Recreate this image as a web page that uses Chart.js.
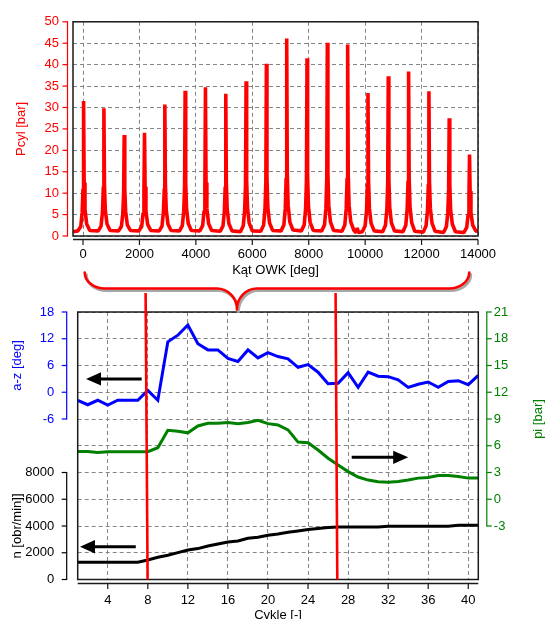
<!DOCTYPE html>
<html><head><meta charset="utf-8">
<script src="https://cdn.jsdelivr.net/npm/chart.js@4.4.0/dist/chart.umd.min.js"></script>
<style>
html,body{margin:0;padding:0;background:#fff;overflow:hidden}
#wrap{position:relative;width:546px;height:619px;overflow:hidden;background:#fff}
canvas{position:absolute;left:0}
</style></head><body>
<div id="wrap">
<canvas id="cTop" width="546" height="280" style="top:0;width:546px;height:280px"></canvas>
<canvas id="cBot" width="546" height="360" style="top:270px;width:546px;height:360px"></canvas>
</div>
<script>
// ---------- top panel: cylinder pressure vs crank angle ----------
const angleTicks = [0, 2000, 4000, 6000, 8000, 10000, 12000, 14000];
const pcylTicks = [0, 5, 10, 15, 20, 25, 30, 35, 40, 45, 50];
const pcylAngle = [-355,
  -180,-80,-30,0,20,40,70,130,240,
  540,640,690,720,740,760,790,850,960,
  1260,1360,1410,1440,1460,1480,1510,1570,1680,
  1980,2080,2130,2160,2180,2200,2230,2290,2400,
  2700,2800,2850,2880,2900,2920,2950,3010,3120,
  3420,3520,3570,3600,3620,3640,3670,3730,3840,
  4140,4240,4290,4320,4340,4360,4390,4450,4560,
  4860,4960,5010,5040,5060,5080,5110,5170,5280,
  5580,5680,5730,5760,5780,5800,5830,5890,6000,
  6300,6400,6450,6480,6500,6520,6550,6610,6720,
  7020,7120,7170,7200,7220,7240,7270,7330,7440,
  7740,7840,7890,7920,7940,7960,7990,8050,8160,
  8460,8560,8610,8640,8660,8680,8710,8770,8880,
  9180,9280,9330,9360,9380,9400,9430,9490,9600,
  9680,9720,9760,
  9900,10000,10050,10080,10100,10120,10150,10210,10320,
  10620,10720,10770,10800,10820,10840,10870,10930,11040,
  11340,11440,11490,11520,11540,11560,11590,11650,11760,
  12060,12160,12210,12240,12260,12280,12310,12370,12480,
  12780,12880,12930,12960,12980,13000,13030,13090,13200,
  13500,13600,13650,13680,13700,13720,13750,13810,13920,
  14000];
const pcylBar = [1.0,
  1.2,2.2,5.5,11.0,31.5,12.5,6.2,2.8,1.3,
  1.2,2.3,5.6,11.5,29.8,12.0,6.0,2.8,1.3,
  1.2,2.2,5.2,10.0,23.6,11.0,5.8,2.6,1.3,
  1.2,2.2,5.3,10.2,24.1,11.5,5.9,2.7,1.3,
  1.2,2.3,5.6,11.0,30.7,12.0,6.1,2.8,1.3,
  1.2,2.4,5.8,11.5,33.9,12.5,6.3,2.9,1.3,
  1.2,2.4,5.8,11.8,34.7,12.5,6.4,2.9,1.3,
  1.1,2.3,5.7,11.5,33.2,12.5,6.3,2.9,1.2,
  1.0,2.4,6.0,12.0,36.1,13.0,6.6,3.0,1.2,
  1.1,2.5,6.2,12.5,40.2,13.5,6.8,3.1,1.3,
  1.2,2.6,6.5,13.5,46.1,14.5,7.2,3.3,1.4,
  1.2,2.6,6.4,13.0,41.5,14.0,7.0,3.2,1.3,
  1.2,2.6,6.5,13.5,45.1,14.5,7.2,3.3,1.3,
  1.1,2.6,6.5,13.5,44.7,14.5,7.2,3.3,1.3,
  0.8,1.9,0.8,
  1.0,2.4,6.0,12.0,33.4,13.0,6.5,3.0,1.2,
  1.0,2.5,6.2,12.5,37.3,13.5,6.8,3.1,1.2,
  1.0,2.5,6.3,12.8,38.4,13.5,6.8,3.1,1.1,
  0.9,2.4,6.0,12.0,33.8,13.0,6.5,3.0,1.1,
  0.8,2.2,5.5,11.0,27.5,12.0,6.0,2.8,1.0,
  0.8,2.0,5.0,9.5,19.0,10.5,5.5,2.6,1.2,
  1.1];

// ---------- bottom panel: per-cycle values ----------
const cycles = [1,2,3,4,5,6,7,8,9,10,11,12,13,14,15,16,17,18,19,20,21,22,23,24,25,26,27,28,29,30,31,32,33,34,35,36,37,38,39,40,41];
const cycleTicks = [4, 8, 12, 16, 20, 24, 28, 32, 36, 40];
const azDeg = [-1.8,-2.8,-1.8,-2.9,-1.8,-1.8,-1.8,0.4,-1.8,11.3,12.8,15.1,10.9,9.5,9.5,7.6,6.9,9.5,7.7,8.9,8.0,7.5,5.6,6.2,4.5,1.9,2.0,4.4,1.1,4.5,3.6,3.5,2.8,1.1,1.8,2.3,1.1,2.4,2.6,1.7,3.8];
const piBar = [5.35,5.35,5.25,5.33,5.33,5.33,5.33,5.33,5.78,7.74,7.63,7.45,8.22,8.52,8.52,8.6,8.48,8.6,8.85,8.48,8.33,7.78,6.41,6.33,5.52,4.6,3.85,3.1,2.49,2.15,1.97,1.9,2.0,2.15,2.37,2.45,2.67,2.67,2.56,2.37,2.37];
const nRpm = [1290,1290,1290,1290,1290,1290,1290,1460,1660,1810,2010,2210,2310,2510,2660,2810,2880,3080,3160,3310,3410,3530,3630,3730,3810,3880,3930,3930,3930,3930,3930,3980,3980,3980,3980,3980,3980,3980,4060,4060,4060];
const azTicks = [-6, 0, 6, 12, 18];
const nTicks = [0, 2000, 4000, 6000, 8000];
const piTicks = [-3, 0, 3, 6, 9, 12, 15, 18, 21];
const piGridTicks = [-9, -6, -3, 0, 3, 6, 9, 12, 15, 18, 21];
const AZ_MIN = -42, AZ_MAX = 18, N_MIN = 0, N_MAX = 20000;

// annotations (data coordinates)
const markerTop = [7.78, 26.75];
const markerBottom = [7.98, 26.92];
const braceAngleFrom = 60, braceAngleTo = 13690, braceTipCycle = 16.9;
const arrows = [
  {axis: 'yAz', from: 7.39, to: 1.83, at: 3.0},
  {axis: 'yN', from: 6.8, to: 1.23, at: 2450},
  {axis: 'yPi', from: 28.36, to: 34.0, at: 4.7}
];

const FONT = "'Liberation Sans', Arial, Helvetica, sans-serif";
Chart.defaults.font.family = FONT;
Chart.defaults.font.size = 13;
Chart.defaults.color = '#000';
const RED = '#ff0000', BLUE = '#0000ff', GREEN = '#008000', GRID = '#858585', FRAME = '#1a1a1a';

function seg(ctx, x1, y1, x2, y2, color, w) {
  ctx.beginPath(); ctx.moveTo(x1, y1); ctx.lineTo(x2, y2);
  ctx.strokeStyle = color; ctx.lineWidth = w; ctx.setLineDash([]); ctx.stroke();
}
function vText(ctx, text, x, y, color) {
  ctx.save(); ctx.translate(x, y); ctx.rotate(-Math.PI / 2);
  ctx.fillStyle = color; ctx.font = '13px ' + FONT; ctx.textAlign = 'center'; ctx.textBaseline = 'middle';
  ctx.fillText(text, 0, 0); ctx.restore();
}
function hText(ctx, text, x, y, color) {
  ctx.save(); ctx.fillStyle = color; ctx.font = '13px ' + FONT; ctx.textAlign = 'center'; ctx.textBaseline = 'middle';
  ctx.fillText(text, x, y); ctx.restore();
}
function vAxis(ctx, scale, values, x, dir, color) {
  const y1 = scale.getPixelForValue(Math.min(...values));
  const y2 = scale.getPixelForValue(Math.max(...values));
  seg(ctx, x, y1 + 0.6, x, y2 - 0.6, color, 1.2);
  values.forEach(v => { const y = scale.getPixelForValue(v); seg(ctx, x, y, x + dir * 5, y, color, 1.2); });
}
const azFromN = n => AZ_MIN + (n - N_MIN) / (N_MAX - N_MIN) * (AZ_MAX - AZ_MIN);
const nFromAz = a => N_MIN + (a - AZ_MIN) / (AZ_MAX - AZ_MIN) * (N_MAX - N_MIN);
const leftAxisTicks = nTicks.map(azFromN).concat(azTicks);

const topDecor = {
  id: 'topDecor',
  afterDatasetsDraw(chart) {
    const {ctx, chartArea: a, scales: {x, y}} = chart;
    ctx.save();
    ctx.setLineDash([]);
    ctx.strokeStyle = FRAME; ctx.lineWidth = 1.5;
    ctx.strokeRect(a.left, a.top, a.right - a.left, a.bottom - a.top);
    vAxis(ctx, y, pcylTicks, a.left - 5.5, -1, RED);
    const ay = a.bottom + 3.5;
    seg(ctx, a.left, ay, a.right, ay, FRAME, 1.5);
    angleTicks.forEach(v => { const px = x.getPixelForValue(v); seg(ctx, px, ay, px, ay + 5.5, FRAME, 1.2); });
    vText(ctx, 'Pcyl [bar]', a.left - 52, (a.top + a.bottom) / 2, RED);
    hText(ctx, 'Kąt OWK [deg]', (a.left + a.right) / 2, 270, '#000');
    ctx.restore();
  }
};

const topChart = new Chart(document.getElementById('cTop'), {
  type: 'line',
  data: { datasets: [{
    data: pcylAngle.map((a, i) => ({x: a, y: pcylBar[i]})),
    borderColor: RED, borderWidth: 3.6, pointRadius: 0, tension: 0, borderJoinStyle: 'bevel', fill: false
  }]},
  options: {
    responsive: false, animation: false, events: [],
    layout: {padding: {top: 18, right: 68, left: 0, bottom: 0}},
    plugins: {legend: {display: false}, tooltip: {enabled: false}},
    scales: {
      x: {
        type: 'linear', min: -355, max: 14000,
        afterBuildTicks: s => { s.ticks = angleTicks.map(v => ({value: v})); },
        afterFit: s => { s.height = 44; },
        grid: {color: GRID, lineWidth: 1, drawTicks: false},
        border: {display: false, dash: [4, 3]},
        ticks: {padding: 11, color: '#000', autoSkip: false, maxRotation: 0, callback: v => String(v)}
      },
      y: {
        type: 'linear', min: 0, max: 50,
        afterBuildTicks: s => { s.ticks = pcylTicks.map(v => ({value: v})); },
        afterFit: s => { s.width = 73; },
        grid: {color: GRID, lineWidth: 1, drawTicks: false},
        border: {display: false, dash: [4, 3]},
        ticks: {padding: 14, color: RED, callback: v => String(v)}
      }
    }
  },
  plugins: [topDecor]
});

function drawArrow(ctx, x1, x2, y) {
  const dir = Math.sign(x2 - x1), head = 15, hw = 6.7;
  seg(ctx, x1, y, x2 - dir * (head - 1), y, '#000', 3);
  ctx.beginPath(); ctx.moveTo(x2, y); ctx.lineTo(x2 - dir * head, y - hw); ctx.lineTo(x2 - dir * head, y + hw); ctx.closePath();
  ctx.fillStyle = '#000'; ctx.fill();
}

const botDecor = {
  id: 'botDecor',
  afterDatasetsDraw(chart) {
    const {ctx, chartArea: a, scales} = chart;
    const x = scales.x;
    ctx.save();
    ctx.setLineDash([]);
    // frame
    ctx.strokeStyle = FRAME; ctx.lineWidth = 1.5;
    ctx.strokeRect(a.left, a.top, a.right - a.left, a.bottom - a.top);
    // offset x axis
    const ay = a.bottom + 4;
    seg(ctx, a.left, ay, a.right, ay, FRAME, 1.5);
    cycleTicks.forEach(v => { const px = x.getPixelForValue(v); seg(ctx, px, ay, px, ay + 5.5, FRAME, 1.2); });
    // side axes
    vAxis(ctx, scales.yAz, azTicks, a.left - 11, -1, BLUE);
    vAxis(ctx, scales.yN, nTicks, a.left - 11, -1, '#000');
    vAxis(ctx, scales.yPi, piTicks, a.right + 8.5, 1, GREEN);
    // axis titles
    vText(ctx, 'a-z [deg]', a.left - 60, scales.yAz.getPixelForValue(6), BLUE);
    vText(ctx, 'n [obr/min]]', a.left - 60, scales.yN.getPixelForValue(4000), '#000');
    vText(ctx, 'pi [bar]', a.right + 60, scales.yPi.getPixelForValue(9), GREEN);
    hText(ctx, 'Cykle [-]', (a.left + a.right) / 2, a.bottom + 36, '#000');
    // arrows
    arrows.forEach(ar => drawArrow(ctx, x.getPixelForValue(ar.from), x.getPixelForValue(ar.to), scales[ar.axis].getPixelForValue(ar.at)));
    // brace linking the crank-angle range to the cycles
    const tx = topChart.scales.x;
    const xL = tx.getPixelForValue(braceAngleFrom), xR = tx.getPixelForValue(braceAngleTo);
    const xT = x.getPixelForValue(braceTipCycle);
    const yTop = a.top - 39.5, yH = a.top - 23.5, yTip = a.top - 2.5;
    const rx = 20, rt = 20, k = 0.448;
    const bracePath = (dx, dy) => {
      ctx.beginPath();
      ctx.moveTo(xL + dx, yTop + dy);
      ctx.bezierCurveTo(xL + dx, yH - k * (yH - yTop) + dy, xL + k * rx + dx, yH + dy, xL + rx + dx, yH + dy);
      ctx.lineTo(xT - rt + dx, yH + dy);
      ctx.bezierCurveTo(xT - rt + 0.552 * rt + dx, yH + dy, xT + dx, yTip - 0.552 * (yTip - yH) + dy, xT + dx, yTip + dy);
      ctx.moveTo(xT + dx, yTip + dy);
      ctx.bezierCurveTo(xT + dx, yTip - 0.552 * (yTip - yH) + dy, xT + rt - 0.552 * rt + dx, yH + dy, xT + rt + dx, yH + dy);
      ctx.lineTo(xR - rx + dx, yH + dy);
      ctx.bezierCurveTo(xR - k * rx + dx, yH + dy, xR + dx, yH - k * (yH - yTop) + dy, xR + dx, yTop + dy);
    };
    ctx.lineCap = 'round'; ctx.lineJoin = 'round';
    bracePath(1.5, 2); ctx.strokeStyle = '#a8a8a8'; ctx.lineWidth = 3; ctx.stroke();
    bracePath(0, 0); ctx.strokeStyle = RED; ctx.lineWidth = 2.6; ctx.stroke();
    ctx.lineCap = 'butt';
    // red cycle markers
    markerTop.forEach((c, i) => {
      seg(ctx, x.getPixelForValue(c), a.top - 19, x.getPixelForValue(markerBottom[i]), a.bottom, RED, 2.6);
    });
    ctx.restore();
  }
};

new Chart(document.getElementById('cBot'), {
  type: 'line',
  data: { datasets: [
    {data: cycles.map((c, i) => ({x: c, y: azDeg[i]})), yAxisID: 'yAz', borderColor: BLUE, borderWidth: 3, pointRadius: 0, tension: 0, fill: false},
    {data: cycles.map((c, i) => ({x: c, y: piBar[i]})), yAxisID: 'yPi', borderColor: GREEN, borderWidth: 3, pointRadius: 0, tension: 0, fill: false},
    {data: cycles.map((c, i) => ({x: c, y: nRpm[i]})), yAxisID: 'yN', borderColor: '#000', borderWidth: 3, pointRadius: 0, tension: 0, fill: false}
  ]},
  options: {
    responsive: false, animation: false, events: [],
    layout: {padding: {top: 42, right: 0, left: 0, bottom: 0}},
    plugins: {legend: {display: false}, tooltip: {enabled: false}},
    scales: {
      x: {
        type: 'linear', min: 1, max: 41,
        afterBuildTicks: s => { s.ticks = cycleTicks.map(v => ({value: v})); },
        afterFit: s => { s.height = 50.5; },
        grid: {color: GRID, lineWidth: 1, drawTicks: false},
        border: {display: false, dash: [4, 3]},
        ticks: {padding: 12.7, color: '#000', autoSkip: false, maxRotation: 0, callback: v => String(v)}
      },
      yAz: {
        type: 'linear', position: 'left', min: AZ_MIN, max: AZ_MAX,
        afterBuildTicks: s => { s.ticks = leftAxisTicks.map(v => ({value: v})); },
        afterFit: s => { s.width = 77.7; },
        grid: {drawOnChartArea: false, drawTicks: false},
        border: {display: false},
        ticks: {
          padding: 23.5,
          color: c => (c.tick && c.tick.value >= -6) ? BLUE : '#000',
          callback: v => v >= -6 ? String(v) : String(Math.round(nFromAz(v)))
        }
      },
      yN: {type: 'linear', position: 'left', display: false, min: N_MIN, max: N_MAX},
      yPi: {
        type: 'linear', position: 'right', min: -9, max: 21,
        afterBuildTicks: s => { s.ticks = piGridTicks.map(v => ({value: v})); },
        afterFit: s => { s.width = 67.7; },
        grid: {color: GRID, lineWidth: 1, drawTicks: false},
        border: {display: false, dash: [4, 3]},
        ticks: {padding: 15.5, color: GREEN, callback: v => v >= -3 ? String(v) : ''}
      }
    }
  },
  plugins: [botDecor]
});
</script>
</body></html>
